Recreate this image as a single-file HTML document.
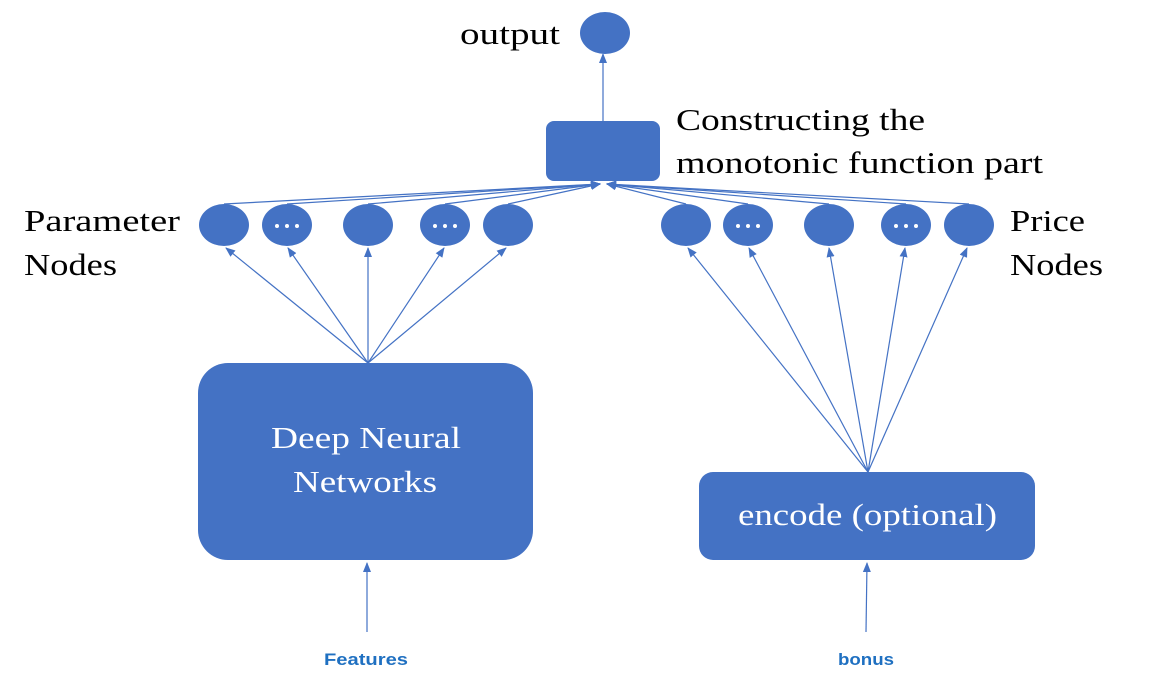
<!DOCTYPE html>
<html><head><meta charset="utf-8"><style>
html,body{margin:0;padding:0;background:#fff;}
svg{display:block;}
.s{font-family:"Liberation Serif",serif;font-size:31px;fill:#000;}
.w{font-family:"Liberation Serif",serif;font-size:31px;fill:#fff;}
.f{font-family:"Liberation Sans",sans-serif;font-size:17px;fill:#1f70c1;font-weight:bold;}
</style></head><body>
<svg width="1174" height="686" viewBox="0 0 1174 686" xmlns="http://www.w3.org/2000/svg">
<defs>
<marker id="a" markerWidth="10" markerHeight="10" refX="9" refY="5" orient="auto" markerUnits="userSpaceOnUse">
<path d="M0,1 L10,5 L0,9 z" fill="#4472c4"/></marker>
</defs>
<g stroke="#4472c4" stroke-width="1.2" fill="none" marker-end="url(#a)">
<line x1="603" y1="121" x2="603" y2="54"/>
<line x1="224" y1="204" x2="600" y2="184"/>
<line x1="287" y1="204" x2="600" y2="184"/>
<line x1="368" y1="204" x2="600" y2="184"/>
<line x1="445" y1="204" x2="600" y2="184"/>
<line x1="508" y1="204" x2="600" y2="184"/>
<line x1="686" y1="204" x2="607" y2="184"/>
<line x1="748" y1="204" x2="607" y2="184"/>
<line x1="829" y1="204" x2="607" y2="184"/>
<line x1="906" y1="204" x2="607" y2="184"/>
<line x1="969" y1="204" x2="607" y2="184"/>
<line x1="368" y1="363" x2="226" y2="248"/>
<line x1="368" y1="363" x2="288" y2="248"/>
<line x1="368" y1="363" x2="368" y2="248"/>
<line x1="368" y1="363" x2="444" y2="248"/>
<line x1="368" y1="363" x2="506" y2="248"/>
<line x1="868" y1="472" x2="688" y2="248"/>
<line x1="868" y1="472" x2="749" y2="248"/>
<line x1="868" y1="472" x2="829" y2="248"/>
<line x1="868" y1="472" x2="905" y2="248"/>
<line x1="868" y1="472" x2="967" y2="248"/>
<line x1="367" y1="632" x2="367" y2="563"/>
<line x1="866" y1="632" x2="867" y2="563"/>
</g>
<g fill="#4472c4">
<ellipse cx="605" cy="33" rx="25" ry="21"/>
<rect x="546" y="121" width="114" height="60" rx="8"/>
<ellipse cx="224" cy="225" rx="25" ry="21"/>
<ellipse cx="287" cy="225" rx="25" ry="21"/>
<ellipse cx="368" cy="225" rx="25" ry="21"/>
<ellipse cx="445" cy="225" rx="25" ry="21"/>
<ellipse cx="508" cy="225" rx="25" ry="21"/>
<ellipse cx="686" cy="225" rx="25" ry="21"/>
<ellipse cx="748" cy="225" rx="25" ry="21"/>
<ellipse cx="829" cy="225" rx="25" ry="21"/>
<ellipse cx="906" cy="225" rx="25" ry="21"/>
<ellipse cx="969" cy="225" rx="25" ry="21"/>
<rect x="198" y="363" width="335" height="197" rx="30"/>
<rect x="699" y="472" width="336" height="88" rx="14"/>
</g>
<g fill="#fff">
<circle cx="277" cy="226" r="2"/><circle cx="287" cy="226" r="2"/><circle cx="297" cy="226" r="2"/>
<circle cx="435" cy="226" r="2"/><circle cx="445" cy="226" r="2"/><circle cx="455" cy="226" r="2"/>
<circle cx="738" cy="226" r="2"/><circle cx="748" cy="226" r="2"/><circle cx="758" cy="226" r="2"/>
<circle cx="896" cy="226" r="2"/><circle cx="906" cy="226" r="2"/><circle cx="916" cy="226" r="2"/>
</g>
<text class="s" x="460" y="44" textLength="100" lengthAdjust="spacingAndGlyphs">output</text>
<text class="s" x="676" y="130" textLength="249" lengthAdjust="spacingAndGlyphs">Constructing the</text>
<text class="s" x="676" y="173" textLength="367" lengthAdjust="spacingAndGlyphs">monotonic function part</text>
<text class="s" x="24" y="231" textLength="156" lengthAdjust="spacingAndGlyphs">Parameter</text>
<text class="s" x="24" y="275" textLength="93" lengthAdjust="spacingAndGlyphs">Nodes</text>
<text class="s" x="1010" y="231" textLength="75" lengthAdjust="spacingAndGlyphs">Price</text>
<text class="s" x="1010" y="275" textLength="93" lengthAdjust="spacingAndGlyphs">Nodes</text>
<text class="w" x="271" y="448" textLength="190" lengthAdjust="spacingAndGlyphs">Deep Neural</text>
<text class="w" x="293" y="492" textLength="144" lengthAdjust="spacingAndGlyphs">Networks</text>
<text class="w" x="738" y="525" textLength="259" lengthAdjust="spacingAndGlyphs">encode (optional)</text>
<text class="f" x="324" y="665" textLength="84" lengthAdjust="spacingAndGlyphs">Features</text>
<text class="f" x="838" y="665" textLength="56" lengthAdjust="spacingAndGlyphs">bonus</text>
</svg>
</body></html>
